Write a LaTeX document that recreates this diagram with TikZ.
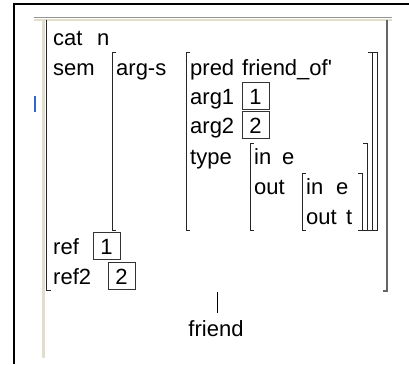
\documentclass[tikz,border=0pt]{standalone}
\usepackage{fontspec}
\setmainfont{Liberation Sans}[Ligatures=TeXOff]
\newcommand\avmL[3]{\draw[brk] (#1+4,#2) -- (#1,#2) -- (#1,#3) -- (#1+4,#3);}
\newcommand\avmR[3]{\draw[brk] (#1-4,#2) -- (#1,#2) -- (#1,#3) -- (#1-4,#3);}
\begin{document}
\begin{tikzpicture}[x=1pt,y=-1pt,
  txt/.style={anchor=base west, inner sep=0pt, font=\fontsize{22}{26}\selectfont},
  tag/.style={draw=black!80, line width=0.9pt, minimum width=27pt, minimum height=27pt,
    inner sep=0pt, anchor=base, font=\fontsize{22}{26}\selectfont},
  brk/.style={line width=0.9pt, draw=black!85},
  panel/.style={line width=2.2pt, draw=panelbeige},
]
\definecolor{panelbeige}{RGB}{226,222,204}
\definecolor{panelgrey}{RGB}{150,150,150}
\definecolor{caret}{RGB}{50,100,210}
\path[use as bounding box, fill=white] (0,0) rectangle (409,364);

% window edge
\draw[line width=1.4pt] (14,364) -- (14,4) -- (409,4);
% inner panel edge
\draw[line width=1pt, draw=panelgrey] (34,17.5) -- (392,17.5);
\draw[panel] (34,19.6) -- (392,19.6);
\draw[panel] (43.5,18.5) -- (43.5,358);
% text caret
\draw[line width=2pt, draw=caret] (35,96) -- (35,112);

% outer feature structure
\draw[brk, line width=1pt] (46,20) -- (46,290) -- (51,290);
\draw[line width=1.3pt, draw=black!60] (387,20) -- (387,291) -- (383,291);

\node[txt] (lcat) at (53,45) {cat};
\node[txt] (vcat) at (97,45) {n};
\node[txt] (lsem) at (53,75) {sem};

% value of sem
\avmL{112}{52}{230}
\avmR{377}{52}{230}
\node[txt] (largs) at (116,75) {arg-s};

% value of arg-s
\avmL{186}{52}{230}
\avmR{372}{52}{230}
\node[txt] (lpred) at (190,75) {pred};
\node[txt] (vpred) at (242,75) {friend\_of'};
\node[txt] (larg1) at (190,104) {arg1};
\node[tag] (t1) at (255.5,104) {1};
\node[txt] (larg2) at (190,133) {arg2};
\node[tag] (t2) at (255.5,133) {2};
\node[txt] (ltype) at (190,164) {type};

% value of type
\avmL{250}{143}{230}
\avmR{367}{143}{230}
\node[txt] (lin) at (254,164) {in};
\node[txt] (vin) at (282,164) {e};
\node[txt] (lout) at (254,194) {out};

% value of out
\avmL{302}{173}{230}
\avmR{362}{173}{230}
\node[txt] (lin2) at (306,194) {in};
\node[txt] (vin2) at (336,194) {e};
\node[txt] (lout2) at (306,224) {out};
\node[txt] (vout2) at (346,224) {t};

% indices
\node[txt] (lref) at (53,254) {ref};
\node[tag] (r1) at (106.5,254) {1};
\node[txt] (lref2) at (53,284) {ref2};
\node[tag] (r2) at (121.5,284) {2};

% word
\coordinate (top) at (217,292);
\node[txt, anchor=base] (fr) at (216,336) {friend};
\draw[line width=0.9pt] (top) -- (217,313);
\end{tikzpicture}
\end{document}
